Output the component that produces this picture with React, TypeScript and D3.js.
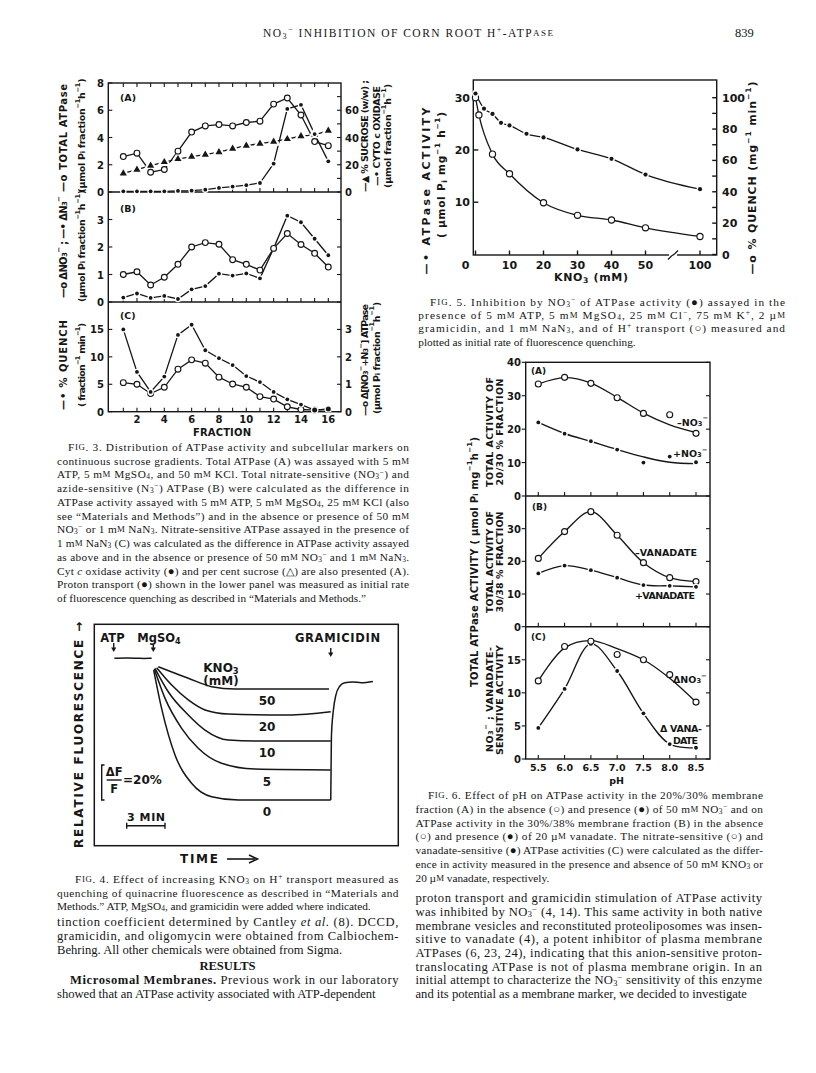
import React from "react";
import * as d3 from "d3";

const SERIF = '"Liberation Serif", "Times New Roman", serif';
const SANS = '"DejaVu Sans", "Liberation Sans", sans-serif';
const INK = "#161616";

// ---------------- Fig. 3 data ----------------
const fig3Fractions = [1, 2, 3, 4, 5, 6, 7, 8, 9, 10, 11, 12, 13, 14, 15, 16];
const fig3FractionLabels = [2, 4, 6, 8, 10, 12, 14, 16];
const fig3TotalATPase = [2.6, 2.85, 1.45, 1.65, 3.0, 4.4, 4.85, 4.95, 4.85, 5.1, 5.2, 6.45, 6.9, 5.65, 3.7, 3.4];
const fig3Sucrose = [13.7, 16.4, 19.3, 22.0, 24.2, 26.0, 27.4, 29.3, 31.8, 34.0, 35.5, 37.0, 38.9, 41.0, 42.0, 45.0];
const fig3CytOxidase = [0.5, 0.5, 0.5, 0.5, 0.8, 1.0, 1.7, 3.0, 4.0, 5.0, 6.6, 20.8, 61, 64, 42.5, 22.5];
const fig3DeltaNO3 = [1.0, 1.1, 0.62, 0.9, 1.37, 2.0, 2.16, 2.1, 1.54, 1.37, 1.16, 1.95, 2.49, 2.09, 1.77, 1.27];
const fig3DeltaN3 = [0.16, 0.31, 0.15, 0.22, 0.11, 0.46, 0.58, 1.03, 0.96, 1.04, 0.86, 1.95, 3.14, 2.9, 2.3, 1.7];
const fig3Quench = [15.0, 7.25, 3.6, 6.4, 14.0, 15.85, 11.2, 9.75, 8.5, 6.5, 5.4, 3.6, 2.25, 1.3, 0.3, 0.5];
const fig3DeltaNO3N3 = [1.06, 1.0, 0.66, 0.89, 1.55, 1.89, 1.77, 1.26, 1.01, 0.89, 0.55, 0.46, 0.18, 0.08, 0.06, 0.08];
const fig3TicksA = [0, 2, 4, 6, 8];
const fig3TicksARight = [0, 20, 40, 60];
const fig3MinorARight = [10, 30, 50, 70];
const fig3TicksB = [0, 1, 2, 3];
const fig3TicksC = [0, 5, 10, 15];
const fig3TicksCRight = [0, 1, 2, 3];

// ---------------- Fig. 4 data ----------------
const fig4Conc = ["50", "20", "10", "5", "0"];
const fig4Time50 = [0.39, 1.5, 2.74, 4.57, 6.4, 13.76];
const fig4Fluor50 = [95.2, 92.0, 88.6, 83.8, 82.5, 82.5];
const fig4Time20 = [0.26, 1.44, 2.74, 4.05, 5.87, 10.57, 13.9];
const fig4Fluor20 = [94.6, 84.7, 76.2, 70.5, 68.2, 67.6, 69.5];
const fig4Time10 = [0.13, 1.17, 2.74, 4.05, 5.87, 7.96, 13.9];
const fig4Fluor10 = [94.3, 80.9, 67.6, 59.0, 53.3, 52.7, 52.7];
const fig4Time5 = [0.08, 0.92, 2.22, 3.52, 5.35, 7.96, 13.9];
const fig4Fluor5 = [93.9, 77.1, 60.0, 48.6, 40.0, 36.7, 36.2];
const fig4Time0 = [0.03, 0.65, 1.7, 3.0, 4.57, 6.66, 13.9];
const fig4Fluor0 = [93.3, 71.4, 44.8, 28.6, 20.9, 19.0, 19.0];
const fig4TimeBase = [-3.05, -2.0, -1.0, -0.13];
const fig4FluorBase = [100, 100.2, 99.9, 100];
const fig4TimeRecov = [13.9, 13.95, 14.1, 14.3, 14.6, 15.0, 15.6, 16.3, 17.2];
const fig4FluorRecov = [19, 55, 70, 79, 84, 86, 86.5, 86, 86.8];
const fig4TimeATP = -3.1;
const fig4TimeMg = 0;
const fig4TimeGram = 13.9;
const fig4ScaleMin = 3;
const fig4ScalePct = 20;

// ---------------- Fig. 5 data ----------------
const fig5KNO3Atp = [0, 2.5, 5, 7.5, 10, 15, 20, 30, 40, 50, 100];
const fig5Atp = [30.8, 27.9, 26.9, 25.2, 24.7, 23.1, 22.4, 20.1, 18.3, 15.3, 12.5];
const fig5KNO3Quench = [0, 1, 5, 10, 20, 30, 40, 50, 100];
const fig5Quench = [100, 89, 64, 51.5, 33, 25, 22, 17, 11.5];
const fig5XTicks = [0, 10, 20, 30, 40, 50, 100];
const fig5LeftTicks = [10, 20, 30];
const fig5RightTicks = [0, 20, 40, 60, 80, 100];
const fig5RightMinor = [10, 30, 50, 70, 90];

// ---------------- Fig. 6 data ----------------
const fig6pH = [5.5, 6.0, 6.5, 7.0, 7.5, 8.0, 8.5];
const fig6pHLabels = ["5.5", "6.0", "6.5", "7.0", "7.5", "8.0", "8.5"];
const fig6AMinusNO3 = [33.5, 35.5, 33.7, 29.4, 24.7, 24.3, 18.75];
const fig6AMinusNO3Fit = [33.5, 35.4, 33.8, 29.5, 24.8, 21.3, 19.0];
const fig6APlusNO3 = [22.0, 18.65, 16.4, 13.9, 10.0, 11.8, 10.1];
const fig6APlusNO3Fit = [22.0, 18.7, 16.3, 13.9, 11.7, 10.1, 9.7];
const fig6BMinusVan = [20.9, 29.1, 35.2, 28.0, 19.6, 15.0, 13.8];
const fig6BPlusVan = [16.3, 18.7, 17.3, 15.0, 12.75, 12.5, 12.2];
const fig6CDeltaNO3 = [11.8, 17.0, 17.8, 15.8, 15.0, 12.75, 8.6];
const fig6CDeltaNO3Fit = [11.8, 16.8, 17.9, 16.7, 15.0, 12.2, 8.6];
const fig6CDeltaVan = [4.7, 10.6, 17.4, 13.3, 6.9, 2.26, 1.7];
const fig6TicksAB = [0, 10, 20, 30, 40];
const fig6TicksB = [0, 10, 20, 30];
const fig6TicksC = [0, 5, 10, 15];

// ---------------- text ----------------
const fig3Caption = [
  "F~{IG}. 3. Distribution of ATPase activity and subcellular markers on",
  "continuous sucrose gradients. Total ATPase (A) was assayed with 5 m~{M}",
  "ATP, 5 m~{M} MgSO_{4}, and 50 m~{M} KCl. Total nitrate-sensitive (NO_{3}^{−}) and",
  "azide-sensitive (N_{3}^{−}) ATPase (B) were calculated as the difference in",
  "ATPase activity assayed with 5 m~{M} ATP, 5 m~{M} MgSO_{4}, 25 m~{M} KCl (also",
  "see “Materials and Methods”) and in the absence or presence of 50 m~{M}",
  "NO_{3}^{−} or 1 m~{M} NaN_{3}. Nitrate-sensitive ATPase assayed in the presence of",
  "1 m~{M} NaN_{3} (C) was calculated as the difference in ATPase activity assayed",
  "as above and in the absence or presence of 50 m~{M} NO_{3}^{−} and 1 m~{M} NaN_{3}.",
  "Cyt *{c} oxidase activity (●) and per cent sucrose (△) are also presented (A).",
  "Proton transport (●) shown in the lower panel was measured as initial rate",
  "of fluorescence quenching as described in “Materials and Methods.”",
];
const fig4Caption = [
  "F~{IG}. 4. Effect of increasing KNO_{3} on H^{+} transport measured as",
  "quenching of quinacrine fluorescence as described in “Materials and",
  "Methods.” ATP, MgSO_{4}, and gramicidin were added where indicated.",
];
const leftBody1 = [
  "tinction coefficient determined by Cantley *{et al.} (8). DCCD,",
  "gramicidin, and oligomycin were obtained from Calbiochem-",
  "Behring. All other chemicals were obtained from Sigma.",
];
const leftBody2 = [
  "!{Microsomal Membranes.} Previous work in our laboratory",
  "showed that an ATPase activity associated with ATP-dependent",
];
const fig5Caption = [
  "F~{IG}. 5. Inhibition by NO_{3}^{−} of ATPase activity (●) assayed in the",
  "presence of 5 m~{M} ATP, 5 m~{M} MgSO_{4}, 25 m~{M} Cl^{−}, 75 m~{M} K^{+}, 2 µ~{M}",
  "gramicidin, and 1 m~{M} NaN_{3}, and of H^{+} transport (○) measured and",
  "plotted as initial rate of fluorescence quenching.",
];
const fig6Caption = [
  "F~{IG}. 6. Effect of pH on ATPase activity in the 20%/30% membrane",
  "fraction (A) in the absence (○) and presence (●) of 50 m~{M} NO_{3}^{−} and on",
  "ATPase activity in the 30%/38% membrane fraction (B) in the absence",
  "(○) and presence (●) of 20 µ~{M} vanadate. The nitrate-sensitive (○) and",
  "vanadate-sensitive (●) ATPase activities (C) were calculated as the differ-",
  "ence in activity measured in the presence and absence of 50 m~{M} KNO_{3} or",
  "20 µ~{M} vanadate, respectively.",
];
const rightBody = [
  "proton transport and gramicidin stimulation of ATPase activity",
  "was inhibited by NO_{3}^{−} (4, 14). This same activity in both native",
  "membrane vesicles and reconstituted proteoliposomes was insen-",
  "sitive to vanadate (4), a potent inhibitor of plasma membrane",
  "ATPases (6, 23, 24), indicating that this anion-sensitive proton-",
  "translocating ATPase is not of plasma membrane origin. In an",
  "initial attempt to characterize the NO_{3}^{−} sensitivity of this enzyme",
  "and its potential as a membrane marker, we decided to investigate",
];

// ---------------- helpers ----------------
function parseRich(s: string) {
  const out: { t: string; k: string }[] = [];
  const re = /([_^~*!])\{([^}]*)\}/g;
  let last = 0;
  let m: RegExpExecArray | null;
  while ((m = re.exec(s))) {
    if (m.index > last) out.push({ t: s.slice(last, m.index), k: "n" });
    out.push({ t: m[2], k: m[1] });
    last = re.lastIndex;
  }
  if (last < s.length) out.push({ t: s.slice(last), k: "n" });
  return out;
}

function rich(s: string, fs: number, tight = false) {
  const segs = parseRich(s);
  let cur = 0;
  return segs.map((g, i) => {
    let target = 0;
    let size = fs;
    const st: any = {};
    if (g.k === "_") { target = fs * (tight ? 0.18 : 0.26); size = fs * (tight ? 0.66 : 0.7); }
    else if (g.k === "^") { target = -fs * (tight ? 0.26 : 0.36); size = fs * (tight ? 0.66 : 0.7); }
    else if (g.k === "~") { size = fs * 0.78; }
    else if (g.k === "*") st.fontStyle = "italic";
    else if (g.k === "!") st.fontWeight = "bold";
    const dy = target - cur;
    cur = target;
    return (
      <tspan key={i} dy={dy} fontSize={size} style={st}>
        {g.t}
      </tspan>
    );
  });
}

function T(p: any) {
  const { x, y, s, fs = 10, fam = SANS, w = "bold", anchor = "start", len, rot = false, ls } = p;
  const a: any = {
    fontSize: fs,
    fontFamily: fam,
    fontWeight: w,
    textAnchor: anchor,
    dominantBaseline: "central",
    fill: INK,
  };
  if (len) { a.textLength = len; a.lengthAdjust = "spacing"; }
  if (ls) a.letterSpacing = ls;
  if (rot) return <text transform={`translate(${x},${y}) rotate(-90)`} {...a}>{rich(s, fs)}</text>;
  return <text x={x} y={y} {...a}>{rich(s, fs)}</text>;
}

function Para({ x, xr, y0, lh, lines, fs, firstX }: any) {
  return (
    <g>
      {lines.map((ln: string, i: number) => {
        const lx = i === 0 && firstX ? firstX : x;
        const last = i === lines.length - 1;
        const a: any = {};
        if (!last) { a.textLength = xr - lx; a.lengthAdjust = "spacing"; }
        return (
          <text key={i} x={lx} y={y0 + i * lh} fontSize={fs} fontFamily={SERIF} dominantBaseline="central" fill={INK} {...a}>
            {rich(ln, fs, true)}
          </text>
        );
      })}
    </g>
  );
}

const openC = (k: string, cx: number, cy: number, r = 2.9) => (
  <circle key={k} cx={cx} cy={cy} r={r} fill="#fff" stroke={INK} strokeWidth={1.15} />
);
const dotC = (k: string, cx: number, cy: number, r = 1.9) => (
  <g key={k}>
    <circle cx={cx} cy={cy} r={r + 1.3} fill="#fff" />
    <circle cx={cx} cy={cy} r={r} fill={INK} />
  </g>
);
const triM = (k: string, cx: number, cy: number) => (
  <g key={k} transform={`translate(${cx},${cy})`}>
    <path d={d3.symbol(d3.symbolTriangle, 34)() as string} fill="#fff" transform="scale(1.6)" />
    <path d={d3.symbol(d3.symbolTriangle, 22)() as string} fill={INK} />
  </g>
);

function pathOf(xs: number[], ys: number[], sx: any, sy: any, curve: any = d3.curveLinear) {
  return d3.line<number>().x((_, i) => sx(xs[i])).y((d) => sy(d)).curve(curve)(ys) as string;
}

// ---------------- Fig. 3 ----------------
function Fig3() {
  const x = d3.scaleLinear().domain([1, 16]).range([123.3, 328.3]);
  const L = 108.3, R = 341, yTop = 83, yAB = 192, yBC = 302, yBot = 411.7;
  const yA = d3.scaleLinear().domain([0, 8]).range([yAB, yTop]);
  const yAr = d3.scaleLinear().domain([0, 80]).range([yAB, yTop]);
  const yB = d3.scaleLinear().domain([0, 4]).range([yBC, yAB]);
  const yC = d3.scaleLinear().domain([0, 20]).range([yBot, yBC]);
  const yCr = d3.scaleLinear().domain([0, 4]).range([yBot, yBC]);
  const f = fig3Fractions;
  const sw = 1.3;
  const ticks: any[] = [];
  f.forEach((v) => {
    ticks.push(<line key={"t" + v} x1={x(v)} x2={x(v)} y1={yTop} y2={yTop + 4} />);
    ticks.push(<line key={"a" + v} x1={x(v)} x2={x(v)} y1={yAB} y2={yAB - 4} />);
    ticks.push(<line key={"b" + v} x1={x(v)} x2={x(v)} y1={yBC} y2={yBC - 4} />);
    ticks.push(<line key={"c" + v} x1={x(v)} x2={x(v)} y1={yBot} y2={yBot - 4} />);
  });
  fig3TicksA.forEach((v) => ticks.push(<line key={"la" + v} x1={L} x2={L + 4} y1={yA(v)} y2={yA(v)} />));
  [...fig3TicksARight, ...fig3MinorARight].forEach((v) =>
    ticks.push(<line key={"ra" + v} x1={R} x2={R - 4} y1={yAr(v)} y2={yAr(v)} />)
  );
  fig3TicksB.forEach((v) => {
    ticks.push(<line key={"lb" + v} x1={L} x2={L + 4} y1={yB(v)} y2={yB(v)} />);
    ticks.push(<line key={"rb" + v} x1={R} x2={R - 4} y1={yB(v)} y2={yB(v)} />);
  });
  fig3TicksC.forEach((v) => ticks.push(<line key={"lc" + v} x1={L} x2={L + 4} y1={yC(v)} y2={yC(v)} />));
  fig3TicksCRight.forEach((v) => ticks.push(<line key={"rc" + v} x1={R} x2={R - 4} y1={yCr(v)} y2={yCr(v)} />));

  return (
    <g>
      <g stroke={INK} strokeWidth={1.4} fill="none">
        <rect x={L} y={yTop} width={R - L} height={yBot - yTop} />
        <line x1={L} x2={R} y1={yAB} y2={yAB} />
        <line x1={L} x2={R} y1={yBC} y2={yBC} />
        <g strokeWidth={1.1}>{ticks}</g>
      </g>
      {fig3TicksA.map((v) => <T key={"A" + v} x={104} y={yA(v)} s={String(v)} fs={10} anchor="end" />)}
      {fig3TicksARight.map((v) => <T key={"Ar" + v} x={345} y={yAr(v)} s={String(v)} fs={10} />)}
      {fig3TicksB.map((v) => <T key={"B" + v} x={104} y={yB(v)} s={String(v)} fs={10} anchor="end" />)}
      {fig3TicksC.map((v) => <T key={"C" + v} x={104} y={yC(v)} s={String(v)} fs={10} anchor="end" />)}
      {fig3TicksCRight.map((v) => <T key={"Cr" + v} x={345} y={yCr(v)} s={String(v)} fs={10} />)}
      {fig3FractionLabels.map((v) => <T key={"F" + v} x={x(v)} y={419} s={String(v)} fs={10} anchor="middle" />)}
      <T x={222} y={432} s="FRACTION" fs={10} anchor="middle" len={58} />
      <T x={120} y={96.7} s="(A)" fs={9.5} />
      <T x={120} y={208} s="(B)" fs={9.5} />
      <T x={120} y={315} s="(C)" fs={9.5} />
      <T x={62.5} y={138} s="—o TOTAL ATPase" fs={10} anchor="middle" rot len={108} />
      <T x={81} y={135.5} s="(µmol P_{i} fraction^{−1}h^{−1})" fs={9.5} anchor="middle" rot len={114} />
      <T x={62.5} y={247} s="—o ΔNO_{3}^{−} ; —• ΔN_{3}^{−}" fs={10} anchor="middle" rot len={102} />
      <T x={81} y={246} s="(µmol P_{i} fraction^{−1}h^{−1})" fs={9.5} anchor="middle" rot len={112} />
      <T x={62.5} y={365} s="—• % QUENCH" fs={10} anchor="middle" rot len={90} />
      <T x={81} y={365} s="( fraction^{−1} min^{−1})" fs={9.5} anchor="middle" rot len={84} />
      <T x={364} y={136} s="—▲ % SUCROSE (w/w) ;" fs={9.5} anchor="middle" rot len={112} />
      <T x={375.5} y={136} s="—• CYTO c OXIDASE" fs={9.5} anchor="middle" rot len={100} />
      <T x={387} y={136} s="(µmol fraction^{−1}h^{−1})" fs={9.5} anchor="middle" rot len={104} />
      <T x={364} y={360} s="—o Δ[NO_{3}^{−}+N_{3}^{−}] ATPase" fs={9.5} anchor="middle" rot len={112} />
      <T x={375.5} y={358} s="(µmol P_{i} fraction^{−1}h^{−1})" fs={9.5} anchor="middle" rot len={112} />
      <g fill="none" stroke={INK} strokeWidth={sw}>
        <path d={pathOf(f, fig3Sucrose, x, yAr)} />
        <path d={pathOf(f, fig3CytOxidase, x, yAr)} />
        <path d={pathOf(f, fig3TotalATPase, x, yA)} />
        <path d={pathOf(f, fig3DeltaN3, x, yB)} />
        <path d={pathOf(f, fig3DeltaNO3, x, yB)} />
        <path d={pathOf(f, fig3Quench, x, yC)} />
        <path d={pathOf(f, fig3DeltaNO3N3, x, yCr)} />
      </g>
      {f.map((v, i) => triM("s" + i, x(v), yAr(fig3Sucrose[i])))}
      {f.map((v, i) => dotC("cy" + i, x(v), yAr(fig3CytOxidase[i])))}
      {f.map((v, i) => openC("ta" + i, x(v), yA(fig3TotalATPase[i])))}
      {f.map((v, i) => dotC("n3" + i, x(v), yB(fig3DeltaN3[i])))}
      {f.map((v, i) => openC("no" + i, x(v), yB(fig3DeltaNO3[i])))}
      {f.map((v, i) => openC("nn" + i, x(v), yCr(fig3DeltaNO3N3[i])))}
      {f.map((v, i) => dotC("q" + i, x(v), yC(fig3Quench[i]), i >= 14 ? 2.5 : 1.9))}
    </g>
  );
}

// ---------------- Fig. 4 ----------------
function Fig4() {
  const xT = d3.scaleLinear().domain([0, 3]).range([153.3, 191.6]);
  const yF = d3.scaleLinear().domain([100, 80]).range([658.3, 693.3]);
  const traces = [
    [fig4Time50, fig4Fluor50],
    [fig4Time20, fig4Fluor20],
    [fig4Time10, fig4Fluor10],
    [fig4Time5, fig4Fluor5],
    [fig4Time0, fig4Fluor0],
  ];
  const arrow = (k: string, x: number, y1: number, y2: number) => (
    <g key={k}>
      <line x1={x} x2={x} y1={y1} y2={y2 - 3} stroke={INK} strokeWidth={1.4} />
      <path d={`M${x - 2.6},${y2 - 4.5}L${x + 2.6},${y2 - 4.5}L${x},${y2}Z`} fill={INK} />
    </g>
  );
  const barTop = 765;
  const barH = yF(100 - fig4ScalePct) - yF(100);
  const minL = xT(fig4ScaleMin) - xT(0);
  return (
    <g>
      <rect x={94.3} y={624.3} width={304} height={221.4} fill="none" stroke={INK} strokeWidth={1.5} />
      <T x={79} y={735} s="RELATIVE  FLUORESCENCE →" fs={12} anchor="middle" rot len={226} />
      <T x={180} y={859} s="TIME" fs={12} len={38} />
      <line x1={227} x2={255} y1={859} y2={859} stroke={INK} strokeWidth={1.6} />
      <path d="M249,855 L257.5,859 L249,863" fill="none" stroke={INK} strokeWidth={1.6} />
      <T x={112.5} y={638} s="ATP" fs={11.5} anchor="middle" />
      <T x={159} y={638} s="MgSO_{4}" fs={11.5} anchor="middle" />
      <T x={337.5} y={638} s="GRAMICIDIN" fs={11.5} anchor="middle" len={85} />
      {arrow("a1", xT(fig4TimeATP), 643, 652)}
      {arrow("a2", xT(fig4TimeMg), 644, 652)}
      {arrow("a3", xT(fig4TimeGram), 648, 657)}
      <T x={221} y={668} s="KNO_{3}" fs={12} anchor="middle" />
      <T x={221} y={681} s="(mM)" fs={12} anchor="middle" />
      <g fill="none" stroke={INK} strokeWidth={1.5}>
        <path d={pathOf(fig4TimeBase, fig4FluorBase, xT, yF, d3.curveBasis)} />
        {traces.map((tr, i) => (
          <path key={i} d={pathOf(tr[0], tr[1], xT, yF, d3.curveMonotoneX)} />
        ))}
        <path d={pathOf(fig4TimeRecov, fig4FluorRecov, xT, yF, d3.curveMonotoneX)} />
      </g>
      {traces.map((tr, i) => (
        <T key={"l" + i} x={267} y={yF(d3.min(tr[1]) as number) + 12} s={fig4Conc[i]} fs={12} anchor="middle" />
      ))}
      <g stroke={INK} strokeWidth={1.4} fill="none">
        <path d={`M104.5,${barTop}H101.7V${barTop + barH}H104.5`} />
        <line x1={106.7} x2={121.7} y1={780} y2={780} />
        <path d={`M126.7,822.7V828.7M126.7,825.7H${126.7 + minL}M${126.7 + minL},822.7V828.7`} />
      </g>
      <T x={114.2} y={772} s="ΔF" fs={11.5} anchor="middle" />
      <T x={114.2} y={788.5} s="F" fs={11.5} anchor="middle" />
      <T x={123} y={780} s="=20%" fs={12} />
      <T x={146} y={816.7} s="3 MIN" fs={11} anchor="middle" len={38} />
    </g>
  );
}

// ---------------- Fig. 5 ----------------
function Fig5() {
  const xK = d3.scaleLinear().domain([0, 58, 100]).range([475.5, 672.7, 700]);
  const yAt = d3.scaleLinear().domain([0, 30]).range([254.5, 97.7]);
  const yQ = d3.scaleLinear().domain([0, 100]).range([254.5, 97.7]);
  const L = 473.3, R = 716.7, T0 = 80, B = 255;
  return (
    <g>
      <g stroke={INK} strokeWidth={1.4} fill="none">
        <rect x={L} y={T0} width={R - L} height={B - T0} />
        {fig5XTicks.map((v) => <line key={"x" + v} x1={xK(v)} x2={xK(v)} y1={B} y2={B - 4.5} />)}
        {fig5LeftTicks.map((v) => <line key={"l" + v} x1={L} x2={L + 5} y1={yAt(v)} y2={yAt(v)} />)}
        {[...fig5RightTicks, ...fig5RightMinor].map((v) => (
          <line key={"r" + v} x1={R} x2={R - 4.5} y1={yQ(v)} y2={yQ(v)} />
        ))}
      </g>
      <rect x={669} y={252} width={8} height={6} fill="#fff" />
      <path d="M668,259.5 L671.5,256 L674.5,254 L678,250.5" fill="none" stroke={INK} strokeWidth={1.2} />
      {fig5XTicks.map((v) => (
        <T key={"xl" + v} x={v === 0 ? xK(v) - 10 : xK(v)} y={265} s={String(v)} fs={11} anchor="middle" />
      ))}
      {fig5LeftTicks.map((v) => <T key={"ll" + v} x={470} y={yAt(v)} s={String(v)} fs={11} anchor="end" />)}
      {fig5RightTicks.map((v) => <T key={"rl" + v} x={722} y={yQ(v)} s={String(v)} fs={11} />)}
      <T x={591} y={277} s="KNO_{3}  (mM)" fs={11} anchor="middle" len={74} />
      <T x={426} y={191} s="—•  ATPase  ACTIVITY" fs={11} anchor="middle" rot len={167} />
      <T x={441} y={175} s="( µmol  P_{i}  mg^{−1} h^{−1})" fs={10.5} anchor="middle" rot len={126} />
      <T x={752} y={178} s="—o   %  QUENCH  (mg^{−1} min^{−1})" fs={11} anchor="middle" rot len={193} />
      <g fill="none" stroke={INK} strokeWidth={1.3}>
        <path d={pathOf(fig5KNO3Atp, fig5Atp, xK, yAt, d3.curveMonotoneX)} />
        <path d={pathOf(fig5KNO3Quench, fig5Quench, xK, yQ, d3.curveMonotoneX)} />
      </g>
      {fig5KNO3Quench.map((v, i) => openC("q" + i, xK(v), yQ(fig5Quench[i]), 3.1))}
      {fig5KNO3Atp.map((v, i) => dotC("a" + i, xK(v), yAt(fig5Atp[i]), 2.1))}
    </g>
  );
}

// ---------------- Fig. 6 ----------------
function Fig6() {
  const xP = d3.scaleLinear().domain([5.5, 8.5]).range([538.3, 696]);
  const L = 525.7, R = 710, yTop = 362.3, yAB = 496, yBC = 626.7, yBot = 759;
  const yA = d3.scaleLinear().domain([0, 40]).range([yAB, yTop]);
  const yB = d3.scaleLinear().domain([0, 40]).range([yBC, yAB]);
  const yC = d3.scaleLinear().domain([0, 20]).range([yBot, yBC]);
  const cur = d3.curveCatmullRom.alpha(0.5);
  const ticks: any[] = [];
  fig6pH.forEach((v) => {
    [yAB, yBC, yBot].forEach((yy, j) =>
      ticks.push(<line key={"x" + v + j} x1={xP(v)} x2={xP(v)} y1={yy} y2={yy - 4} />)
    );
  });
  fig6TicksAB.forEach((v) => {
    ticks.push(<line key={"la" + v} x1={L} x2={L - 4} y1={yA(v)} y2={yA(v)} />);
    ticks.push(<line key={"ra" + v} x1={R} x2={R - 4} y1={yA(v)} y2={yA(v)} />);
  });
  fig6TicksB.forEach((v) => {
    ticks.push(<line key={"lb" + v} x1={L} x2={L - 4} y1={yB(v)} y2={yB(v)} />);
    ticks.push(<line key={"rb" + v} x1={R} x2={R - 4} y1={yB(v)} y2={yB(v)} />);
  });
  fig6TicksC.forEach((v) => {
    ticks.push(<line key={"lc" + v} x1={L} x2={L - 4} y1={yC(v)} y2={yC(v)} />);
    ticks.push(<line key={"rc" + v} x1={R} x2={R - 4} y1={yC(v)} y2={yC(v)} />);
  });
  return (
    <g>
      <g stroke={INK} strokeWidth={1.4} fill="none">
        <rect x={L} y={yTop} width={R - L} height={yBot - yTop} />
        <line x1={L} x2={R} y1={yAB} y2={yAB} />
        <line x1={L} x2={R} y1={yBC} y2={yBC} />
        <g strokeWidth={1.1}>{ticks}</g>
      </g>
      {fig6TicksAB.map((v) => <T key={"A" + v} x={521} y={yA(v)} s={String(v)} fs={10} anchor="end" />)}
      {fig6TicksB.map((v) => <T key={"B" + v} x={521} y={yB(v)} s={String(v)} fs={10} anchor="end" />)}
      {fig6TicksC.map((v) => <T key={"C" + v} x={521} y={yC(v)} s={String(v)} fs={10} anchor="end" />)}
      {fig6pH.map((v, i) => <T key={"p" + v} x={xP(v)} y={766.7} s={fig6pHLabels[i]} fs={9.5} anchor="middle" />)}
      <T x={616.7} y={780} s="pH" fs={9.5} anchor="middle" />
      <T x={531} y={371} s="(A)" fs={9} />
      <T x={532} y={506.7} s="(B)" fs={9} />
      <T x={531} y={637.3} s="(C)" fs={9} />
      <T x={677} y={421.7} s="–NO_{3}^{−}" fs={9.5} />
      <T x={673} y={453} s="+NO_{3}^{−}" fs={9.5} />
      <T x={635} y={552.3} s="–VANADATE" fs={9.5} len={62} />
      <T x={635} y={595} s="+VANADATE" fs={9.5} len={60} />
      <T x={673} y={679} s="ΔNO_{3}^{−}" fs={9.5} />
      <T x={660} y={727.7} s="Δ VANA-" fs={9.5} len={42} />
      <T x={673} y={739.5} s="DATE" fs={9.5} len={25} />
      <T x={473.5} y={562} s="TOTAL    ATPase    ACTIVITY    ( µmol  P_{i}  mg^{−1}h^{−1})" fs={10} anchor="middle" rot len={250} />
      <T x={489} y={432} s="TOTAL ACTIVITY OF" fs={9.5} anchor="middle" rot len={110} />
      <T x={498.5} y={432} s="20/30 %  FRACTION" fs={9.5} anchor="middle" rot len={107} />
      <T x={489} y={562} s="TOTAL ACTIVITY OF" fs={9.5} anchor="middle" rot len={102} />
      <T x={498.5} y={562} s="30/38 %  FRACTION" fs={9.5} anchor="middle" rot len={101} />
      <T x={489} y={699.5} s="NO_{3}^{−} ; VANADATE-" fs={9.5} anchor="middle" rot len={105} />
      <T x={498.5} y={700} s="SENSITIVE ACTIVITY" fs={9.5} anchor="middle" rot len={110} />
      <g fill="none" stroke={INK} strokeWidth={1.35}>
        <path d={pathOf(fig6pH, fig6AMinusNO3Fit, xP, yA, cur)} />
        <path d={pathOf(fig6pH, fig6APlusNO3Fit, xP, yA, cur)} />
        <path d={pathOf(fig6pH, fig6BMinusVan, xP, yB, cur)} />
        <path d={pathOf(fig6pH, fig6BPlusVan, xP, yB, cur)} />
        <path d={pathOf(fig6pH, fig6CDeltaNO3Fit, xP, yC, cur)} />
        <path d={pathOf(fig6pH, fig6CDeltaVan, xP, yC, cur)} />
      </g>
      {fig6pH.map((v, i) => openC("am" + i, xP(v), yA(fig6AMinusNO3[i]), 3))}
      {fig6pH.map((v, i) => dotC("ap" + i, xP(v), yA(fig6APlusNO3[i]), 1.9))}
      {fig6pH.map((v, i) => openC("bm" + i, xP(v), yB(fig6BMinusVan[i]), 3))}
      {fig6pH.map((v, i) => dotC("bp" + i, xP(v), yB(fig6BPlusVan[i]), 1.9))}
      {fig6pH.map((v, i) => dotC("cv" + i, xP(v), yC(fig6CDeltaVan[i]), 1.9))}
      {fig6pH.map((v, i) => openC("cn" + i, xP(v), yC(fig6CDeltaNO3[i]), 3))}
    </g>
  );
}

export default function App() {
  return (
    <svg
      width={816}
      height={1073}
      viewBox="0 0 816 1073"
      style={{ position: "absolute", left: 0, top: 0, background: "#fff" }}
    >
      <rect width={816} height={1073} fill="#fff" />
      <T x={408} y={33} s="NO_{3}^{−} INHIBITION OF CORN ROOT H^{+}-ATP~{ASE}" fs={11.5} fam={SERIF} w="normal" anchor="middle" len={290} />
      <T x={735} y={33} s="839" fs={12.5} fam={SERIF} w="normal" />
      <Fig3 />
      <Fig4 />
      <Fig5 />
      <Fig6 />
      <Para x={57} xr={409} firstX={68} y0={447} lh={13.73} lines={fig3Caption} fs={11.3} />
      <Para x={57} xr={398.5} firstX={75} y0={879} lh={13.5} lines={fig4Caption} fs={11.3} />
      <Para x={57} xr={398.5} y0={922.4} lh={13.6} lines={leftBody1} fs={12.6} />
      <T x={227.5} y={965.5} s="RESULTS" fs={12.6} fam={SERIF} anchor="middle" />
      <Para x={57} xr={398.5} firstX={70} y0={980.4} lh={13.6} lines={leftBody2} fs={12.6} />
      <Para x={418.3} xr={785} firstX={430} y0={301.7} lh={13.3} lines={fig5Caption} fs={11.3} />
      <Para x={415.5} xr={763} firstX={428} y0={795} lh={13.78} lines={fig6Caption} fs={11.3} />
      <Para x={415.5} xr={762} y0={898.3} lh={13.67} lines={rightBody} fs={12.6} />
    </svg>
  );
}
